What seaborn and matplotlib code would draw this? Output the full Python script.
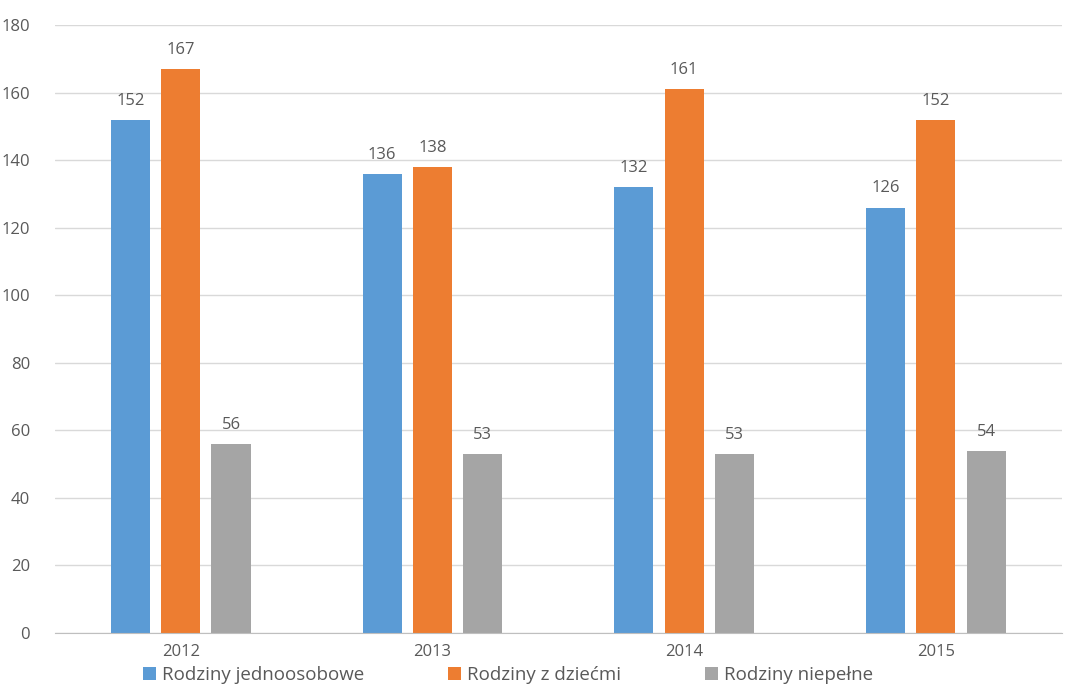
import matplotlib
matplotlib.use("Agg")
import matplotlib.pyplot as plt
import pandas as pd
import seaborn as sns

years = ["2012", "2013", "2014", "2015"]
series_names = ["Rodziny jednoosobowe", "Rodziny z dziećmi", "Rodziny niepełne"]
jednoosobowe = [152, 136, 132, 126]
z_dziecmi = [167, 138, 161, 152]
niepelne = [56, 53, 53, 54]
colors = ["#5B9BD5", "#ED7D31", "#A5A5A5"]

df = pd.DataFrame({
    "rok": years * 3,
    "seria": [series_names[0]] * 4 + [series_names[1]] * 4 + [series_names[2]] * 4,
    "wartosc": jednoosobowe + z_dziecmi + niepelne,
})

sns.set_style("white")
plt.rcParams["font.family"] = ["Open Sans", "DejaVu Sans"]
text_col = "#595959"

fig = plt.figure(figsize=(10.67, 7), dpi=100)
ax = fig.add_axes([0.0515, 0.0957, 0.9435, 0.8683])

sns.barplot(data=df, x="rok", y="wartosc", hue="seria", palette=colors,
            saturation=1, width=0.6, gap=0.22, linewidth=0, ax=ax, legend=True)

for cont in ax.containers:
    ax.bar_label(cont, padding=8, fontsize=12, color=text_col)

ax.set_ylim(0, 180)
ax.set_xlim(-0.5, 3.5)
ax.set_yticks(range(0, 181, 20))
ax.yaxis.grid(True, color="#D9D9D9", linewidth=1)
ax.set_axisbelow(True)
ax.set_xlabel("")
ax.set_ylabel("")
for s in ["top", "right", "left"]:
    ax.spines[s].set_visible(False)
ax.spines["bottom"].set_color("#BFBFBF")
ax.tick_params(axis="both", length=0, labelsize=12, labelcolor=text_col)
ax.tick_params(axis="y", pad=18)
ax.tick_params(axis="x", pad=8)

handles, labels = ax.get_legend_handles_labels()
ax.legend(handles, labels, loc="lower center", bbox_to_anchor=(0.45, -0.112),
          ncol=3, frameon=False, fontsize=13.5, handlelength=0.7, handleheight=0.7,
          handletextpad=0.3, columnspacing=4.5, labelcolor=text_col)

fig.savefig("out.png", dpi=100)
